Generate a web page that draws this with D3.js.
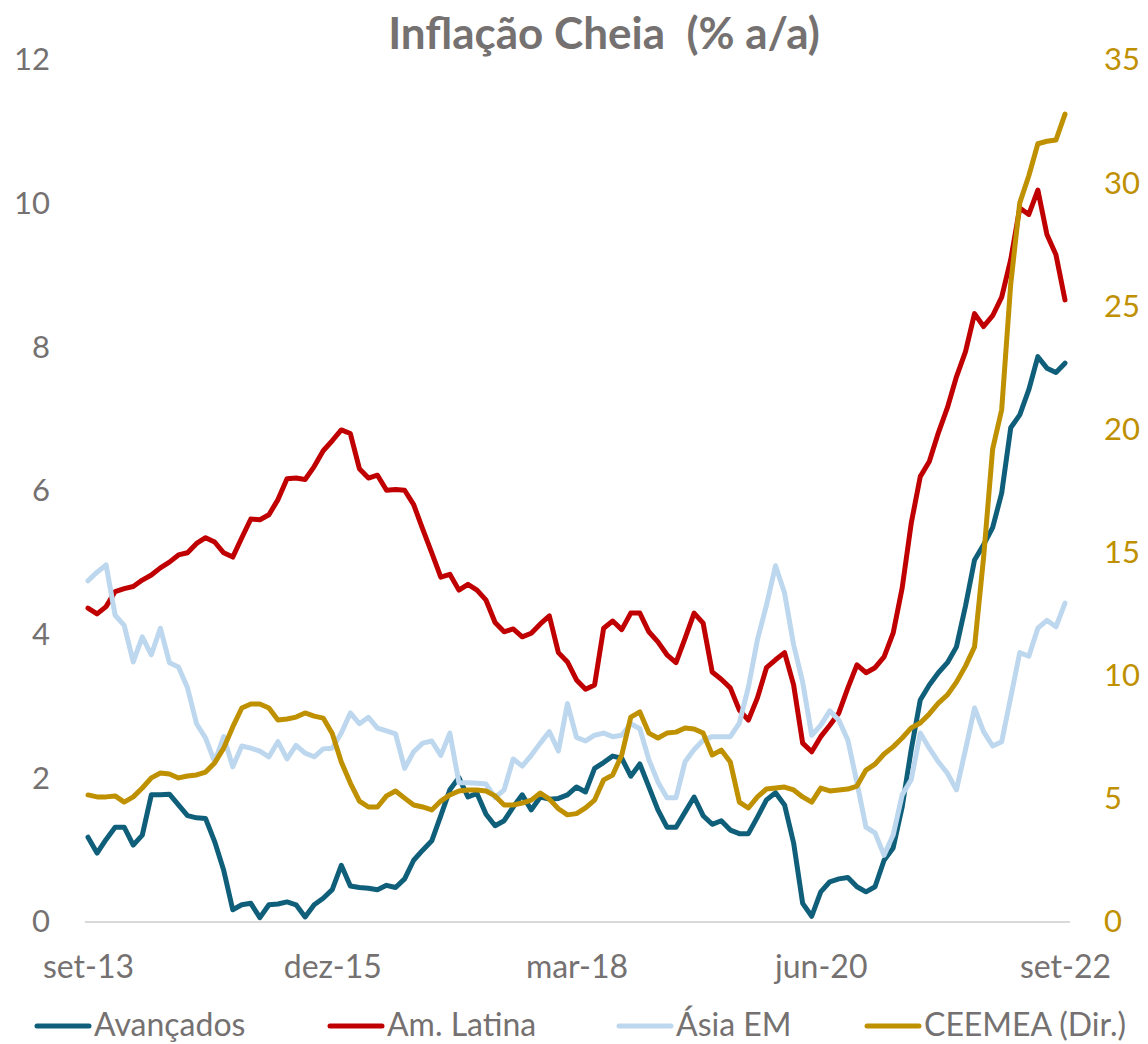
<!DOCTYPE html>
<html>
<head>
<meta charset="utf-8">
<script src="https://cdn.jsdelivr.net/npm/d3@7"></script>
<style>
  body { margin: 0; background: #fff; }
  svg text { font-family: Lato, "Open Sans", sans-serif; }
</style>
</head>
<body>
<div id="chart"></div>
<script>
// monthly data, set-13 .. set-22
var tickLabels = ["set-13", "dez-15", "mar-18", "jun-20", "set-22"];
var tickIdx = [0, 27, 54, 81, 108];

var avancados = [1.18,0.96,1.15,1.32,1.32,1.07,1.21,1.77,1.77,1.78,1.63,1.48,1.45,1.44,1.12,0.72,0.17,0.24,0.26,0.06,
  0.24,0.25,0.28,0.24,0.07,0.24,0.33,0.45,0.79,0.50,0.48,0.47,0.45,0.51,0.48,0.60,0.86,1.00,1.13,1.48,
  1.84,2.01,1.74,1.79,1.50,1.34,1.41,1.60,1.77,1.56,1.74,1.71,1.72,1.77,1.88,1.81,2.14,2.22,2.31,2.28,
  2.03,2.20,1.88,1.56,1.32,1.32,1.53,1.74,1.48,1.36,1.41,1.28,1.23,1.23,1.46,1.70,1.80,1.63,1.10,0.26,
  0.08,0.42,0.56,0.60,0.62,0.49,0.42,0.49,0.86,1.03,1.60,2.40,3.09,3.30,3.47,3.61,3.83,4.40,5.04,5.25,
  5.49,5.97,6.88,7.06,7.41,7.87,7.71,7.65,7.78];

var amLatina = [4.37,4.29,4.39,4.60,4.64,4.67,4.76,4.83,4.93,5.01,5.11,5.14,5.27,5.35,5.29,5.14,5.08,5.35,5.61,5.60,
  5.67,5.88,6.17,6.18,6.16,6.34,6.56,6.70,6.85,6.80,6.31,6.18,6.22,6.01,6.02,6.01,5.81,5.47,5.14,4.80,
  4.84,4.62,4.70,4.62,4.48,4.17,4.04,4.08,3.97,4.02,4.15,4.26,3.75,3.62,3.37,3.24,3.30,4.09,4.19,4.07,
  4.30,4.30,4.04,3.90,3.72,3.61,3.95,4.30,4.16,3.48,3.38,3.26,2.95,2.81,3.12,3.54,3.65,3.75,3.30,2.49,
  2.37,2.58,2.74,2.91,3.26,3.58,3.47,3.54,3.69,4.02,4.65,5.55,6.20,6.41,6.81,7.16,7.59,7.94,8.47,8.29,
  8.44,8.70,9.22,9.94,9.85,10.19,9.57,9.29,8.66];

var asiaEM = [4.75,4.87,4.97,4.27,4.13,3.62,3.97,3.72,4.09,3.61,3.55,3.26,2.76,2.56,2.23,2.58,2.16,2.45,2.42,2.38,
  2.30,2.51,2.27,2.46,2.35,2.30,2.41,2.42,2.63,2.91,2.76,2.85,2.70,2.66,2.62,2.14,2.37,2.49,2.52,2.32,
  2.63,1.94,1.94,1.93,1.92,1.73,1.84,2.27,2.17,2.32,2.49,2.65,2.38,3.04,2.57,2.52,2.60,2.63,2.58,2.60,
  2.76,2.69,2.26,1.95,1.73,1.73,2.23,2.40,2.53,2.58,2.58,2.58,2.77,3.27,3.93,4.41,4.96,4.58,3.86,3.34,
  2.60,2.74,2.94,2.81,2.53,1.94,1.32,1.24,0.93,1.21,1.77,1.98,2.63,2.42,2.23,2.07,1.84,2.40,2.98,2.65,
  2.45,2.51,3.13,3.75,3.70,4.09,4.20,4.11,4.44];

var ceemea = [5.16,5.08,5.08,5.12,4.87,5.08,5.44,5.85,6.05,6.01,5.85,5.93,5.97,6.09,6.46,7.06,7.92,8.69,8.85,8.85,
  8.69,8.20,8.24,8.32,8.49,8.36,8.28,7.65,6.50,5.64,4.91,4.67,4.67,5.12,5.32,5.03,4.75,4.67,4.55,4.91,
  5.16,5.32,5.36,5.36,5.32,5.12,4.75,4.75,4.83,4.95,5.24,4.99,4.60,4.35,4.40,4.63,4.95,5.77,5.97,6.78,
  8.32,8.53,7.67,7.47,7.67,7.71,7.88,7.84,7.67,6.78,6.98,6.50,4.87,4.63,5.08,5.40,5.44,5.48,5.36,5.08,
  4.87,5.44,5.32,5.36,5.40,5.52,6.17,6.41,6.82,7.11,7.47,7.88,8.08,8.45,8.89,9.22,9.74,10.39,11.17,14.8,
  19.2,20.8,25.9,29.2,30.3,31.6,31.7,31.75,32.8];

var seriesNames = ["Avançados", "Am. Latina", "Ásia EM", "CEEMEA (Dir.)"];
var seriesColors = ["#0f5f7a", "#c00000", "#bdd7ee", "#bf9000"];
var leftTicks = [0, 2, 4, 6, 8, 10, 12];
var rightTicks = [0, 5, 10, 15, 20, 25, 30, 35];

var width = 1148, height = 1044;
var plotLeft = 88, plotRight = 1065, plotTop = 60, plotBottom = 922;
var gray = "#757171";

var svg = d3.select("#chart").append("svg")
    .attr("width", width)
    .attr("height", height);

var x = d3.scaleLinear().domain([0, 108]).range([plotLeft, plotRight]);
var yL = d3.scaleLinear().domain([0, 12]).range([plotBottom, plotTop]);
var yR = d3.scaleLinear().domain([0, 35]).range([plotBottom, plotTop]);

// title
svg.append("text")
    .attr("x", 604)
    .attr("y", 49)
    .attr("text-anchor", "middle")
    .style("font-size", "44px")
    .style("font-weight", "bold")
    .style("fill", gray)
    .style("white-space", "pre")
    .text("Inflação Cheia  (% a/a)");

// axis line
svg.append("line")
    .attr("x1", plotLeft - 3).attr("x2", plotRight + 5)
    .attr("y1", plotBottom).attr("y2", plotBottom)
    .style("stroke", "#d9d9d9")
    .style("stroke-width", 2);

// left axis
var leftAxis = svg.append("g")
    .attr("transform", "translate(" + 50 + ",0)")
    .call(d3.axisLeft(yL).tickValues(leftTicks).tickSize(0).tickPadding(0));
leftAxis.select(".domain").remove();
leftAxis.selectAll("text").style("font-size", "31px").style("fill", gray);

// right axis
var rightAxis = svg.append("g")
    .attr("transform", "translate(" + 1104 + ",0)")
    .call(d3.axisRight(yR).tickValues(rightTicks).tickSize(0).tickPadding(0));
rightAxis.select(".domain").remove();
rightAxis.selectAll("text").style("font-size", "31px").style("fill", "#bf9000");

// bottom axis
var bottomAxis = svg.append("g")
    .attr("transform", "translate(0," + plotBottom + ")")
    .call(d3.axisBottom(x).tickValues(tickIdx)
        .tickFormat(function(d, i) { return tickLabels[i]; })
        .tickSize(0).tickPadding(33));
bottomAxis.select(".domain").remove();
bottomAxis.selectAll("text").style("font-size", "32px").style("fill", gray);

// lines
var allData = [avancados, amLatina, asiaEM, ceemea];
var scales = [yL, yL, yL, yR];

allData.forEach(function(d, k) {
    var line = d3.line()
        .x(function(v, i) { return x(i); })
        .y(function(v) { return scales[k](v); });
    svg.append("path")
        .datum(d)
        .attr("d", line)
        .style("fill", "none")
        .style("stroke", seriesColors[k])
        .style("stroke-width", 5)
        .style("stroke-linejoin", "round")
        .style("stroke-linecap", "round");
});

// legend
var legendX = [37, 330, 619, 867];
var legend = svg.append("g");
seriesNames.forEach(function(name, k) {
    legend.append("line")
        .attr("x1", legendX[k]).attr("x2", legendX[k] + 52)
        .attr("y1", 1026).attr("y2", 1026)
        .style("stroke", seriesColors[k])
        .style("stroke-width", 5)
        .style("stroke-linecap", "round");
    legend.append("text")
        .attr("x", legendX[k] + 57)
        .attr("y", 1036)
        .style("font-size", "32px")
        .style("fill", gray)
        .text(name);
});
</script>
</body>
</html>
